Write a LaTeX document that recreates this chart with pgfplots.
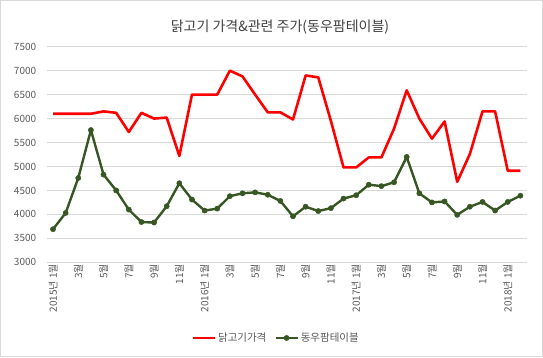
\documentclass[border=0pt]{standalone}
\usepackage{pgfplots}
\pgfplotsset{compat=1.18}
\usepackage{fontspec}
\setmainfont{Noto Sans CJK KR}
\definecolor{txt}{HTML}{595959}
\definecolor{gridc}{HTML}{D9D9D9}
\definecolor{dgreen}{HTML}{375623}
\definecolor{title}{HTML}{404040}
\begin{document}
\begin{tikzpicture}[x=1pt,y=1pt]
\path[use as bounding box] (0,0) rectangle (543,357);
\draw[gridc, line width=0.8pt] (0.5,0.5) rectangle (542.5,356.5);
\node[title, font=\fontsize{14}{16}\selectfont] at (280,330) {닭고기 가격\&관련 주가(동우팜테이블)};
\begin{axis}[
  at={(46.7pt,94.7pt)}, anchor=south west,
  width=480pt, height=215.6pt, scale only axis,
  xmin=-0.5, xmax=37.5, ymin=3000, ymax=7500,
  ytick={3000,3500,...,7500},
  xtick={0,2,...,36},
  xticklabels={2015년 1월,3월,5월,7월,9월,11월,2016년 1월,3월,5월,7월,9월,11월,2017년 1월,3월,5월,7월,9월,11월,2018년 1월},
  x tick label style={rotate=90, anchor=east, font=\fontsize{10}{11}\selectfont, text=txt, xshift=2pt},
  y tick label style={font=\fontsize{10}{12}\selectfont, text=txt, xshift=-7pt},
  /pgf/number format/1000 sep={},
  /pgf/number format/assume math mode=true,
  major tick length=0pt,
  axis line style={draw=none},
  ymajorgrids, grid style={gridc, line width=0.8pt},
  clip=false,
  legend style={at={(0.478,-0.351)}, anchor=center, draw=none, fill=none,
    font=\fontsize{10.5}{12}\selectfont, text=txt, legend columns=2,
    /tikz/every even column/.append style={column sep=6pt}},
  legend image code/.code={\draw[#1] (0pt,0pt) -- (22pt,0pt); \path[#1, only marks] plot coordinates {(11pt,0pt)};},
]
\addplot[red, line width=2.6pt, line join=round, mark=none] coordinates {
(0,6100)(1,6100)(2,6100)(3,6100)(4,6150)(5,6120)(6,5720)(7,6120)(8,6000)(9,6020)
(10,5220)(11,6500)(12,6500)(13,6500)(14,7000)(15,6880)(16,6500)(17,6130)(18,6130)(19,5980)
(20,6900)(21,6860)(22,5950)(23,4980)(24,4980)(25,5190)(26,5190)(27,5790)(28,6590)(29,6000)
(30,5580)(31,5940)(32,4680)(33,5260)(34,6150)(35,6150)(36,4910)(37,4910)};
\addlegendentry{닭고기가격}
\addplot[dgreen, line width=2.4pt, line join=round, mark=*, mark size=2.6pt, mark options={solid, fill=dgreen, line width=0.5pt}] coordinates {
(0,3690)(1,4030)(2,4760)(3,5760)(4,4830)(5,4500)(6,4100)(7,3840)(8,3830)(9,4170)
(10,4650)(11,4310)(12,4080)(13,4120)(14,4380)(15,4440)(16,4460)(17,4410)(18,4280)(19,3960)
(20,4160)(21,4070)(22,4130)(23,4330)(24,4400)(25,4620)(26,4590)(27,4670)(28,5200)(29,4440)
(30,4250)(31,4270)(32,3990)(33,4160)(34,4260)(35,4080)(36,4260)(37,4390)};
\addlegendentry{동우팜테이블}
\end{axis}
\end{tikzpicture}
\end{document}
